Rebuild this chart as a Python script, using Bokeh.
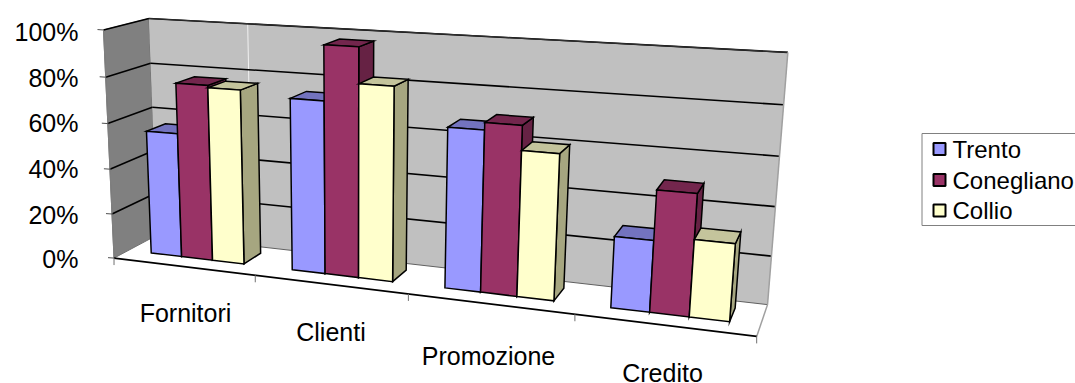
import numpy as np
from bokeh.core.properties import value
from bokeh.embed import file_html
from bokeh.models import Range1d
from bokeh.plotting import figure
from bokeh.resources import INLINE

categories = ["Fornitori", "Clienti", "Promozione", "Credito"]
series_names = ["Trento", "Conegliano", "Collio"]
trento = [0.55, 0.74, 0.67, 0.29]
conegliano = [0.77, 0.97, 0.70, 0.49]
collio = [0.76, 0.82, 0.60, 0.31]
value_ticks = [0.0, 0.2, 0.4, 0.6, 0.8, 1.0]
tick_labels = ["0%", "20%", "40%", "60%", "80%", "100%"]

front_colors = ["#9999FF", "#993366", "#FFFFCC"]
top_colors = ["#7373BF", "#73264D", "#C4C49C"]
side_colors = ["#66669F", "#662244", "#A6A680"]

# Screen positions of the box corners: (category, value, depth) -> (px, py)
box_corners = [
    ((0, 0, 0), (117.0, 256.5)),
    ((4, 0, 0), (756.0, 337.0)),
    ((0, 0, 1), (153.0, 235.5)),
    ((4, 0, 1), (767.5, 303.0)),
    ((0, 1, 0), (99.5, 29.5)),
    ((0, 1, 1), (152.0, 18.0)),
    ((4, 1, 1), (787.0, 52.0)),
]


def fit_camera(corners):
    rows = []
    for (x, y, z), (u, v) in corners:
        rows.append([x, y, z, 1, 0, 0, 0, 0, -u * x, -u * y, -u * z, -u])
        rows.append([0, 0, 0, 0, x, y, z, 1, -v * x, -v * y, -v * z, -v])
    return np.linalg.svd(np.array(rows, dtype=float))[2][-1].reshape(3, 4)


camera = fit_camera(box_corners)


def project(points):
    pts = np.column_stack([np.array(points, dtype=float), np.ones(len(points))])
    h = pts @ camera.T
    return (h[:, 0] / h[:, 2]).tolist(), (h[:, 1] / h[:, 2]).tolist()


p = figure(width=1075, height=383, output_backend="svg", toolbar_location=None,
           x_range=Range1d(0, 1075), y_range=Range1d(383, 0), min_border=0)
p.axis.visible = False
p.grid.visible = False
p.outline_line_color = None
p.background_fill_color = "white"
p.border_fill_color = "white"


def face(points, fill, line="black", width=1.5):
    xs, ys = project(points)
    p.patch(xs, ys, fill_color=fill, line_color=line, line_width=width, line_join="miter")


def seg(a, b, color="black", width=1.6):
    xs, ys = project([a, b])
    p.line(xs, ys, line_color=color, line_width=width)


# Walls and floor
face([(0, 0, 0), (4, 0, 0), (4, 0, 1), (0, 0, 1)], "white", None, 0)
face([(0, 0, 0), (0, 0, 1), (0, 1, 1), (0, 1, 0)], "#808080", "#707070", 1)
face([(0, 0, 1), (4, 0, 1), (4, 1, 1), (0, 1, 1)], "#C0C0C0", None, 0)

# Light seam across the back wall
seg((0.71, 0, 1), (0.71, 1, 1), "#F2F2F2", 1)

# Gridlines on both walls
for t in value_ticks[1:]:
    seg((0, t, 1), (4, t, 1))
    seg((0, t, 0), (0, t, 1))
seg((0, 1, 1), (4, 1, 1), "#303030", 1.2)
seg((0, 0, 1), (4, 0, 1), "#606060", 1)
seg((4, 0, 0), (4, 0, 1), "#A0A0A0", 1.5)
seg((4, 0, 1), (4, 1, 1), "#A0A0A0", 1.5)
seg((0, 0, 0), (0, 1, 0), "#808080", 1)
seg((0, 0, 0), (4, 0, 0), "black", 1.8)

# Tick marks
for t in value_ticks:
    xs, ys = project([(0, t, 0)])
    p.line([xs[0] - 6, xs[0]], [ys[0] - 0.4, ys[0]], line_color="#505050", line_width=1)
for i in range(5):
    xs, ys = project([(i, 0, 0)])
    p.line([xs[0], xs[0]], [ys[0], ys[0] + 7], line_color="#707070", line_width=1)

# Bars, painted left to right so later bars hide the earlier ones' sides
bar_start = 1 / 6
bar_width = 2 / 9
depth_front, depth_back = 0.33, 0.77
for i in range(len(categories)):
    for j, values in enumerate([trento, conegliano, collio]):
        v = values[i]
        a = i + bar_start + j * bar_width
        b = a + bar_width
        f, k = depth_front, depth_back
        face([(b, 0, f), (b, 0, k), (b, v, k), (b, v, f)], side_colors[j])
        face([(a, v, f), (b, v, f), (b, v, k), (a, v, k)], top_colors[j])
        face([(a, 0, f), (b, 0, f), (b, v, f), (a, v, f)], front_colors[j])

font = value("Liberation Sans")

# Value axis labels
label_px = [78] * 6
label_py = [258, 214, 168, 122, 77, 31]
p.text(label_px, label_py, text=tick_labels, text_font=font, text_font_size="25px",
       text_align="right", text_baseline="middle", text_color="black")

# Category labels
cat_px = [185, 330.5, 488, 662]
cat_py = [312, 331, 355, 372]
p.text(cat_px, cat_py, text=categories, text_font=font, text_font_size="25px",
       text_align="center", text_baseline="middle", text_color="black")

# Legend, whose box runs past the right edge of the page
p.patch([921.5, 1085, 1085, 921.5], [133, 133, 225, 225], fill_color="white",
        line_color="#808080", line_width=1)
swatch_py = [148.5, 179.5, 210]
p.rect([939] * 3, swatch_py, width=12, height=12, fill_color=front_colors,
       line_color="black", line_width=2)
p.text([952] * 3, swatch_py, text=series_names, text_font=font, text_font_size="24px",
       text_align="left", text_baseline="middle", text_color="black")

open("out.html", "w").write(file_html(p, INLINE))
